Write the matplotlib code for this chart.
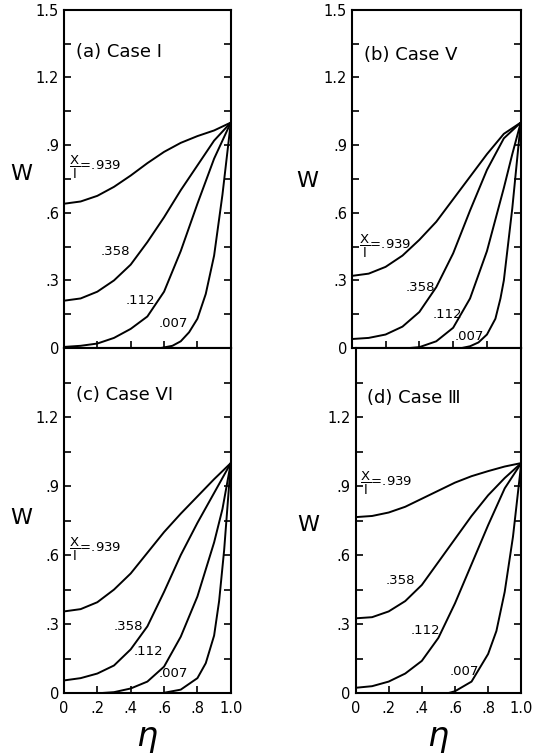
import matplotlib
matplotlib.use("Agg")
import matplotlib.pyplot as plt
from matplotlib.ticker import MultipleLocator

plt.rcParams["font.family"] = ["DejaVu Sans"]
plt.rcParams["mathtext.fontset"] = "dejavusans"

# common eta grid for curves that start at the wall
ETA = [0.0, 0.1, 0.2, 0.3, 0.4, 0.5, 0.6, 0.7, 0.8, 0.9, 1.0]

# (a) Case I
A_939 = [0.64, 0.65, 0.675, 0.715, 0.765, 0.82, 0.87, 0.91, 0.94, 0.965, 1.0]
A_358 = [0.21, 0.22, 0.25, 0.30, 0.37, 0.47, 0.58, 0.70, 0.81, 0.92, 1.0]
A_112 = [0.005, 0.01, 0.02, 0.045, 0.085, 0.14, 0.25, 0.43, 0.64, 0.84, 1.0]
A_007_ETA = [0.58, 0.65, 0.7, 0.75, 0.8, 0.85, 0.9, 0.95, 1.0]
A_007 = [0.0, 0.01, 0.03, 0.07, 0.13, 0.24, 0.41, 0.68, 1.0]

# (b) Case V
B_939 = [0.32, 0.33, 0.36, 0.41, 0.48, 0.56, 0.66, 0.76, 0.86, 0.95, 1.0]
B_358 = [0.04, 0.045, 0.06, 0.095, 0.16, 0.27, 0.42, 0.61, 0.79, 0.93, 1.0]
B_112_ETA = [0.34, 0.4, 0.5, 0.6, 0.7, 0.8, 0.9, 0.95, 1.0]
B_112 = [0.0, 0.004, 0.03, 0.09, 0.22, 0.43, 0.71, 0.86, 1.0]
B_007_ETA = [0.65, 0.7, 0.75, 0.8, 0.85, 0.88, 0.9, 0.95, 1.0]
B_007 = [0.0, 0.008, 0.025, 0.06, 0.13, 0.22, 0.30, 0.62, 1.0]

# (c) Case VI
C_939 = [0.355, 0.365, 0.395, 0.45, 0.52, 0.61, 0.70, 0.78, 0.855, 0.93, 1.0]
C_358 = [0.055, 0.065, 0.085, 0.12, 0.19, 0.29, 0.44, 0.60, 0.74, 0.87, 1.0]
C_112_ETA = [0.22, 0.3, 0.4, 0.5, 0.6, 0.7, 0.8, 0.9, 0.95, 1.0]
C_112 = [0.0, 0.004, 0.02, 0.05, 0.115, 0.245, 0.42, 0.655, 0.80, 1.0]
C_007_ETA = [0.59, 0.7, 0.8, 0.85, 0.9, 0.93, 0.96, 1.0]
C_007 = [0.0, 0.015, 0.065, 0.13, 0.25, 0.40, 0.62, 1.0]

# (d) Case III
D_939 = [0.765, 0.77, 0.785, 0.81, 0.845, 0.88, 0.915, 0.943, 0.965, 0.985, 1.0]
D_358 = [0.325, 0.33, 0.355, 0.40, 0.47, 0.57, 0.67, 0.77, 0.86, 0.935, 1.0]
D_112 = [0.023, 0.03, 0.05, 0.085, 0.14, 0.24, 0.39, 0.56, 0.73, 0.89, 1.0]
D_007_ETA = [0.56, 0.6, 0.7, 0.8, 0.85, 0.9, 0.95, 1.0]
D_007 = [0.0, 0.008, 0.05, 0.17, 0.27, 0.44, 0.68, 1.0]

TITLES = ["(a) Case \u2160", "(b) Case V", "(c) Case VI", "(d) Case \u2162"]

panels = [
    dict(rect=[0.120, 0.539, 0.313, 0.448], title=TITLES[0], title_y=1.315,
         curves=[(ETA, A_939), (ETA, A_358), (ETA, A_112), (A_007_ETA, A_007)],
         labels=[(0.03, 0.80), (0.22, 0.43), (0.37, 0.21), (0.57, 0.11)],
         top=True, W_pos=(0.040, 0.770)),
    dict(rect=[0.660, 0.539, 0.317, 0.448], title=TITLES[1], title_y=1.30,
         curves=[(ETA, B_939), (ETA, B_358), (B_112_ETA, B_112), (B_007_ETA, B_007)],
         labels=[(0.04, 0.45), (0.32, 0.27), (0.48, 0.15), (0.61, 0.05)],
         top=True, W_pos=(0.576, 0.760)),
    dict(rect=[0.120, 0.082, 0.313, 0.457], title=TITLES[2], title_y=1.295,
         curves=[(ETA, C_939), (ETA, C_358), (C_112_ETA, C_112), (C_007_ETA, C_007)],
         labels=[(0.03, 0.626), (0.30, 0.29), (0.42, 0.18), (0.57, 0.087)],
         top=False, W_pos=(0.040, 0.314)),
    dict(rect=[0.667, 0.082, 0.311, 0.457], title=TITLES[3], title_y=1.285,
         curves=[(ETA, D_939), (ETA, D_358), (ETA, D_112), (D_007_ETA, D_007)],
         labels=[(0.03, 0.91), (0.18, 0.49), (0.33, 0.27), (0.57, 0.092)],
         top=False, W_pos=(0.578, 0.305)),
]

LABEL_TEXT = [r"$\dfrac{\mathsf{X}}{\mathsf{l}}$=.939", ".358", ".112", ".007"]

fig = plt.figure(figsize=(5.33, 7.55), dpi=100)

for p in panels:
    ax = fig.add_axes(p["rect"])
    for (x, y) in p["curves"]:
        ax.plot(x, y, color="black", lw=1.4, solid_capstyle="round")
    for txt, (lx, ly) in zip(LABEL_TEXT, p["labels"]):
        ax.text(lx, ly, txt, fontsize=9.5, ha="left", va="center")
    ax.text(0.07, p["title_y"], p["title"], fontsize=13, ha="left", va="center")

    ax.set_xlim(0, 1.0)
    ax.set_ylim(0, 1.5)
    ax.xaxis.set_major_locator(MultipleLocator(0.2))
    ax.yaxis.set_major_locator(MultipleLocator(0.3))
    ax.yaxis.set_minor_locator(MultipleLocator(0.15))
    ax.tick_params(which="both", direction="in", right=True, top=False,
                   length=5, width=1.2, labelsize=10.5)
    ax.tick_params(axis="x", pad=6)

    if p["top"]:
        ax.set_yticks([0, 0.3, 0.6, 0.9, 1.2, 1.5])
        ax.set_yticklabels(["0", ".3", ".6", ".9", "1.2", "1.5"])
        ax.set_xticklabels([])
    else:
        ax.set_yticks([0, 0.3, 0.6, 0.9, 1.2])
        ax.set_yticklabels(["0", ".3", ".6", ".9", "1.2"])
        ax.set_xticks([0, 0.2, 0.4, 0.6, 0.8, 1.0])
        ax.set_xticklabels(["0", ".2", ".4", ".6", ".8", "1.0"])
        ax.set_xlabel(r"$\eta$", fontsize=24, labelpad=4)

    for s in ax.spines.values():
        s.set_linewidth(1.5)

    fig.text(p["W_pos"][0], p["W_pos"][1], "W", fontsize=16, ha="center", va="center")

fig.savefig("out.png", dpi=100)
